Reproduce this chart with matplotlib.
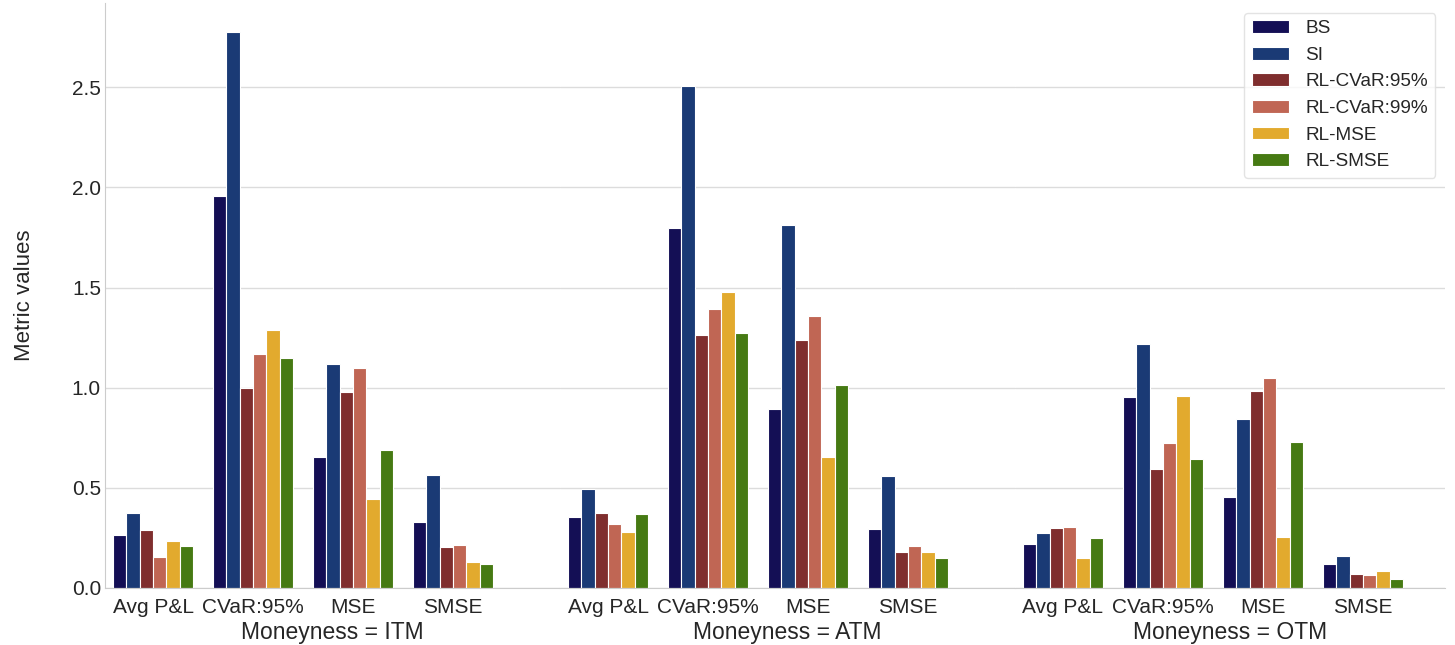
import numpy as np
import matplotlib.pyplot as plt
import seaborn as sns

metrics = ["Avg P&L", "CVaR:95%", "MSE", "SMSE"]
moneyness = ["ITM", "ATM", "OTM"]
strategies = ["BS", "SI", "RL-CVaR:95%", "RL-CVaR:99%", "RL-MSE", "RL-SMSE"]
palette = ["#140f55", "#1a3a75", "#7f2e2e", "#c06654", "#e2aa2e", "#467a13"]

# rows = strategy, columns = metric
itm = [
    [0.265, 1.955, 0.655, 0.330],
    [0.375, 2.775, 1.120, 0.565],
    [0.290, 1.000, 0.980, 0.205],
    [0.155, 1.170, 1.100, 0.215],
    [0.235, 1.290, 0.445, 0.130],
    [0.210, 1.150, 0.690, 0.120],
]
atm = [
    [0.355, 1.800, 0.895, 0.295],
    [0.495, 2.505, 1.815, 0.560],
    [0.375, 1.265, 1.240, 0.180],
    [0.320, 1.395, 1.360, 0.210],
    [0.280, 1.480, 0.655, 0.180],
    [0.370, 1.275, 1.015, 0.150],
]
otm = [
    [0.220, 0.955, 0.455, 0.120],
    [0.275, 1.220, 0.845, 0.160],
    [0.300, 0.595, 0.985, 0.070],
    [0.305, 0.725, 1.050, 0.065],
    [0.150, 0.960, 0.255, 0.085],
    [0.250, 0.645, 0.730, 0.045],
]
panels = {"ITM": itm, "ATM": atm, "OTM": otm}

sns.set_style("whitegrid")
plt.rcParams["font.family"] = ["Liberation Sans", "DejaVu Sans"]
plt.rcParams["text.color"] = ".15"
plt.rcParams["axes.labelcolor"] = ".15"
plt.rcParams["xtick.color"] = ".15"
plt.rcParams["ytick.color"] = ".15"

fig = plt.figure(figsize=(14.55, 6.45), dpi=100)
gs = fig.add_gridspec(1, 3, width_ratios=[4.55, 4.55, 4.30], wspace=0,
                      left=0.0722, right=0.9931, top=0.995, bottom=0.0884)
axes = [fig.add_subplot(gs[0, i]) for i in range(3)]

n = len(strategies)
w = 0.8 / n
x = np.arange(len(metrics))
for k, (ax, m) in enumerate(zip(axes, moneyness)):
    vals = panels[m]
    for i, s in enumerate(strategies):
        ax.bar(x - 0.4 + w * (i + 0.5), vals[i], width=w, color=palette[i],
               edgecolor="white", linewidth=0.8, label=s, zorder=2)
    ax.set_xticks(x)
    ax.set_xticklabels(metrics)
    ax.set_xlim(-0.48, 4.07 if k < 2 else 3.82)
    ax.set_ylim(0, 2.92)
    ax.set_yticks([0, 0.5, 1.0, 1.5, 2.0, 2.5])
    ax.grid(axis="x", visible=False)
    ax.grid(axis="y", color="#dcdcdc", linewidth=1)
    ax.set_axisbelow(True)
    ax.tick_params(axis="both", length=0, labelsize=15)
    ax.tick_params(axis="x", pad=7)
    ax.tick_params(axis="y", pad=3)
    ax.set_xlabel(f"Moneyness = {m}", fontsize=16.5, labelpad=3)
    for side in ["top", "right"]:
        ax.spines[side].set_visible(False)
    ax.spines["bottom"].set_color("#cccccc")
    ax.spines["left"].set_color("#cccccc")
    if k > 0:
        ax.spines["left"].set_visible(False)
        ax.tick_params(axis="y", labelleft=False)

axes[0].set_ylabel("Metric values", fontsize=16)
axes[0].yaxis.set_label_coords(-0.153, 0.5)
axes[2].legend(loc="upper right", fontsize=13.7, frameon=True, edgecolor="#dddddd",
               borderpad=0.4, handlelength=1.95, handleheight=0.65, labelspacing=0.5,
               handletextpad=0.85, bbox_to_anchor=(1.0, 1.0))

fig.savefig("out.png", dpi=100)
